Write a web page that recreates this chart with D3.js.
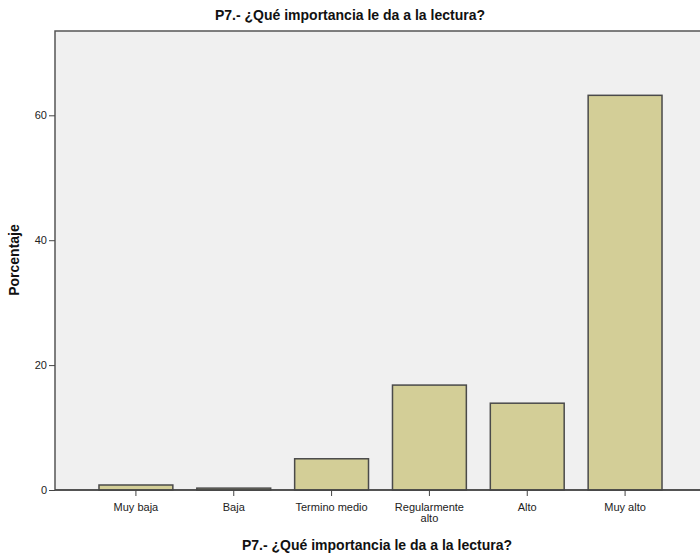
<!DOCTYPE html>
<html><head><meta charset="utf-8">
<script src="https://cdn.jsdelivr.net/npm/d3@7"></script>
<style>body{margin:0;background:#fff}svg{display:block;font-family:"Liberation Sans",Arial,sans-serif}</style>
</head><body><svg id="c" width="700" height="556"></svg>
<script>
const categories = ["Muy baja","Baja","Termino medio","Regularmente alto","Alto","Muy alto"];
const values = [0.8, 0.3, 5.0, 16.8, 13.9, 63.2];
const yTicks = [0, 20, 40, 60];
const title = "P7.- ¿Qué importancia le da a la lectura?";
const yTitle = "Porcentaje";

const svg = d3.select("#c");
const plot = {left:55, top:31, right:701, bottom:490};
const y = d3.scaleLinear().domain([0, 73.5]).range([plot.bottom, plot.top]);
const x = d3.scaleBand().domain(categories).range([87, 674]).paddingInner(0.245).paddingOuter(0.1225);

svg.append("rect").attr("x",plot.left).attr("y",plot.top)
  .attr("width",plot.right-plot.left).attr("height",plot.bottom-plot.top)
  .attr("fill","#f0f0f0").attr("stroke","#555").attr("stroke-width",1.5);

svg.append("g").selectAll("rect").data(values).join("rect")
  .attr("x",(d,i)=>x(categories[i])).attr("y",d=>y(d))
  .attr("width",x.bandwidth()).attr("height",d=>plot.bottom-y(d))
  .attr("fill","#d3ce97").attr("stroke","#4a4a4a").attr("stroke-width",1.5);

const ya = svg.append("g").attr("transform",`translate(${plot.left},0)`)
  .call(d3.axisLeft(y).tickValues(yTicks).tickSize(6).tickPadding(2));
ya.select(".domain").remove();
ya.selectAll("line").attr("stroke","#444");
ya.selectAll("text").attr("font-size",11).attr("fill","#222");

const xa = svg.append("g").attr("transform",`translate(0,${plot.bottom})`)
  .call(d3.axisBottom(x).tickSize(6).tickPadding(4).tickFormat(""));
xa.select(".domain").remove();
xa.selectAll("line").attr("stroke","#444");

svg.append("line").attr("x1",plot.left).attr("x2",plot.right).attr("y1",plot.bottom).attr("y2",plot.bottom)
  .attr("stroke","#444").attr("stroke-width",1.5);

const lbl = svg.append("g");
categories.forEach(c=>{
  const cx = x(c)+x.bandwidth()/2;
  const lines = c==="Regularmente alto" ? ["Regularmente","alto"] : [c];
  const t = lbl.append("text").attr("x",cx).attr("y",511).attr("text-anchor","middle")
    .attr("font-size",11).attr("fill","#222");
  lines.forEach((l,k)=>t.append("tspan").attr("x",cx).attr("dy",k?11:0).text(l));
});

svg.append("text").attr("x",350).attr("y",20).attr("text-anchor","middle")
  .attr("font-size",14).attr("font-weight","bold").attr("fill","#111").text(title);
svg.append("text").attr("x",377).attr("y",550).attr("text-anchor","middle")
  .attr("font-size",14).attr("font-weight","bold").attr("fill","#111").text(title);
svg.append("text").attr("transform","translate(19,260) rotate(-90)").attr("text-anchor","middle")
  .attr("font-size",14).attr("font-weight","bold").attr("fill","#111").text(yTitle);
</script></body></html>
